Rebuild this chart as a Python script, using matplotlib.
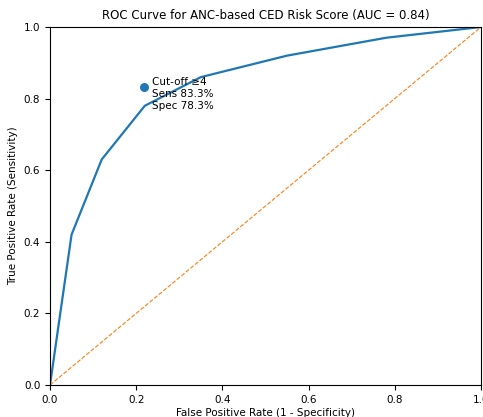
import matplotlib
matplotlib.use('Agg')
import matplotlib.pyplot as plt

# ROC曲线数据
fpr = [0.0, 0.05, 0.12, 0.22, 0.35, 0.55, 0.78, 1.0]
tpr = [0.0, 0.42, 0.63, 0.78, 0.86, 0.92, 0.97, 1.0]
cut_fpr = 0.217
cut_tpr = 0.833
cut_text = 'Cut-off ≥4\nSens 83.3%\nSpec 78.3%'
auc = 0.84

plt.rcParams['font.size'] = 7.5
fig = plt.figure(figsize=(4.83, 4.17), dpi=100)
ax = fig.add_axes([50/483, 32/417, 431/483, 358/417])

ax.plot(fpr, tpr, color='C0', lw=1.6)
ax.plot([0, 1], [0, 1], '--', color='C1', lw=0.8)
ax.scatter([cut_fpr], [cut_tpr], s=30, color='C0', zorder=3)
ax.text(cut_fpr + 0.02, cut_tpr - 0.02, cut_text, ha='left', va='center', fontsize=7.5)

ax.set_xlim(0, 1)
ax.set_ylim(0, 1)
ax.set_title('ROC Curve for ANC-based CED Risk Score (AUC = %.2f)' % auc, fontsize=8.5)
ax.set_xlabel('False Positive Rate (1 - Specificity)', labelpad=2)
ax.set_ylabel('True Positive Rate (Sensitivity)')

fig.savefig('out.png', dpi=100)
